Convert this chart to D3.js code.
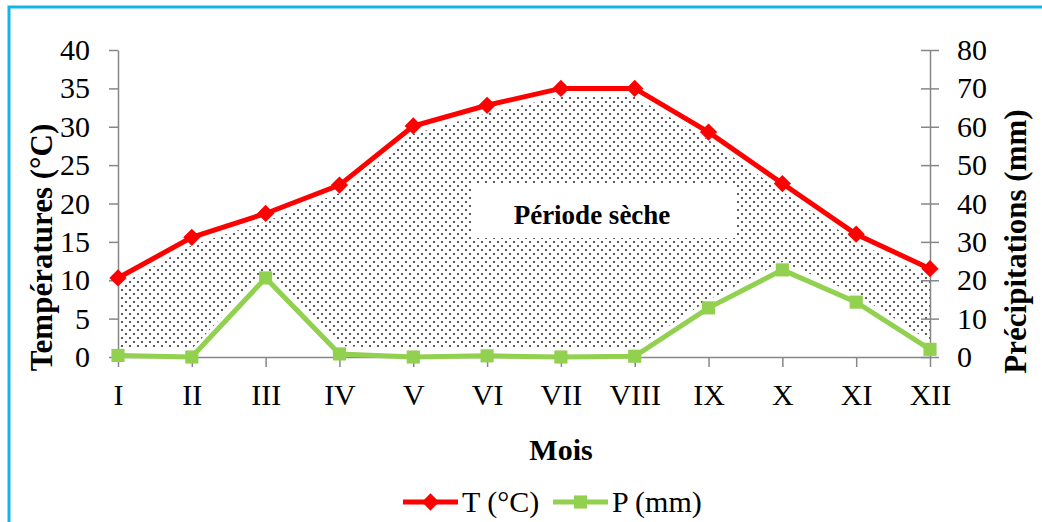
<!DOCTYPE html>
<html>
<head>
<meta charset="utf-8">
<script src="https://cdn.jsdelivr.net/npm/d3@7"></script>
<style>
  body { margin: 0; background: #fff; }
  svg text { fill: #000; }
</style>
</head>
<body>
<div id="chart"></div>
<script>
// months and the two series
const months = ["I", "II", "III", "IV", "V", "VI", "VII", "VIII", "IX", "X", "XI", "XII"];
const temperature = [10.3, 15.6, 18.7, 22.4, 30.1, 32.8, 35.0, 35.0, 29.3, 22.6, 16.0, 11.5];
const precipitation = [0.4, 0, 20.6, 0.8, 0, 0.3, 0, 0.2, 12.8, 22.7, 14.3, 2.0];
const tempTicks = [0, 5, 10, 15, 20, 25, 30, 35, 40];
const precTicks = [0, 10, 20, 30, 40, 50, 60, 70, 80];
const seriesNames = ["T (°C)", "P (mm)"];
const seriesColors = ["#ff0000", "#92d050"];

const W = 1042, H = 522;
const margin = { top: 50, right: 112, bottom: 165, left: 118 };
const serif = "'Liberation Serif', 'Times New Roman', serif";

const svg = d3.select("#chart").append("svg")
  .attr("width", W)
  .attr("height", H)
  .style("font-family", serif);

// dot pattern for the dry period
const defs = svg.append("defs");
const pat = defs.append("pattern")
  .attr("id", "dots")
  .attr("patternUnits", "userSpaceOnUse")
  .attr("width", 8)
  .attr("height", 8);
pat.append("circle").attr("cx", 2).attr("cy", 2).attr("r", 1.1).attr("fill", "#333");
pat.append("circle").attr("cx", 6).attr("cy", 6).attr("r", 1.1).attr("fill", "#333");

// outer frame
svg.append("rect")
  .attr("x", 9).attr("y", 7)
  .attr("width", W + 20).attr("height", H + 20)
  .attr("fill", "#fff")
  .attr("stroke", "#14b4f0")
  .attr("stroke-width", 3);

const x = d3.scalePoint()
  .domain(months)
  .range([margin.left, W - margin.right]);

const yT = d3.scaleLinear()
  .domain([0, 40])
  .range([H - margin.bottom, margin.top]);

const yP = d3.scaleLinear()
  .domain([0, 80])
  .range([H - margin.bottom, margin.top]);

const rows = months.map((m, i) => ({ m, t: temperature[i], p: precipitation[i] }));

// dotted area between P and T (sits a little inside the two lines)
svg.append("path")
  .datum(rows)
  .attr("fill", "url(#dots)")
  .attr("d", d3.area()
    .x(d => x(d.m))
    .y0(d => yP(d.p) - 8)
    .y1(d => yT(d.t) + 8));

// axes
const gray = "#878787";
const styleAxis = g => {
  g.attr("font-family", null).attr("font-size", null);
  g.select(".domain").attr("stroke", gray).attr("stroke-width", 1.5);
  g.selectAll(".tick line").attr("stroke", gray).attr("stroke-width", 1.5);
  g.selectAll(".tick text")
    .style("font-family", serif)
    .style("font-size", "30px")
    .attr("fill", "#000");
};

svg.append("g")
  .attr("transform", `translate(${margin.left},0)`)
  .call(d3.axisLeft(yT).tickValues(tempTicks).tickSize(9).tickSizeOuter(0).tickPadding(19))
  .call(styleAxis);

svg.append("g")
  .attr("transform", `translate(${W - margin.right},0)`)
  .call(d3.axisRight(yP).tickValues(precTicks).tickSize(9).tickSizeOuter(0).tickPadding(18))
  .call(styleAxis)
  .call(g => g.selectAll(".tick line").attr("x1", -9));

svg.append("g")
  .attr("transform", `translate(0,${H - margin.bottom})`)
  .call(d3.axisBottom(x).tickSize(10).tickSizeOuter(0).tickPadding(17))
  .call(styleAxis);

// label for the dry period
svg.append("rect")
  .attr("x", 472).attr("y", 185)
  .attr("width", 263).attr("height", 53)
  .attr("fill", "#fff");
svg.append("text")
  .attr("x", 592).attr("y", 224)
  .attr("text-anchor", "middle")
  .style("font-family", serif)
  .style("font-size", "27px")
  .style("font-weight", "bold")
  .text("Période sèche");

// lines
const lineT = d3.line().x(d => x(d.m)).y(d => yT(d.t));
const lineP = d3.line().x(d => x(d.m)).y(d => yP(d.p));

svg.append("path").datum(rows)
  .attr("fill", "none").attr("stroke", seriesColors[1]).attr("stroke-width", 5)
  .attr("d", lineP);
svg.append("path").datum(rows)
  .attr("fill", "none").attr("stroke", seriesColors[0]).attr("stroke-width", 5)
  .attr("d", lineT);

const diamond = d3.symbol().type(d3.symbolDiamond2).size(190);
const square = d3.symbol().type(d3.symbolSquare2).size(220);

svg.selectAll(".mp").data(rows).enter().append("path")
  .attr("class", "mp")
  .attr("transform", d => `translate(${x(d.m)},${yP(d.p)})`)
  .attr("d", square)
  .attr("fill", seriesColors[1]);

svg.selectAll(".mt").data(rows).enter().append("path")
  .attr("class", "mt")
  .attr("transform", d => `translate(${x(d.m)},${yT(d.t)})`)
  .attr("d", diamond)
  .attr("fill", seriesColors[0]);

// axis titles
svg.append("text")
  .attr("transform", `translate(41,${(yT(0) + yT(40)) / 2 + 44}) rotate(-90)`)
  .attr("text-anchor", "middle")
  .attr("dominant-baseline", "central")
  .style("font-family", serif)
  .style("font-size", "31px")
  .style("font-weight", "bold")
  .text("Températures (°C)");

svg.append("text")
  .attr("transform", `translate(1015,${(yP(0) + yP(80)) / 2 + 38}) rotate(-90)`)
  .attr("text-anchor", "middle")
  .attr("dominant-baseline", "central")
  .style("font-family", serif)
  .style("font-size", "31px")
  .style("font-weight", "bold")
  .text("Précipitations (mm)");

svg.append("text")
  .attr("x", (x("I") + x("XII")) / 2 + 37)
  .attr("y", 460)
  .attr("text-anchor", "middle")
  .style("font-family", serif)
  .style("font-size", "30px")
  .style("font-weight", "bold")
  .text("Mois");

// legend
const legendX = [403, 553];
const legend = svg.selectAll(".lg").data(seriesNames).enter().append("g")
  .attr("class", "lg")
  .attr("transform", (d, i) => `translate(${legendX[i]},502)`);
legend.append("line")
  .attr("x1", 0).attr("x2", 55)
  .attr("stroke", (d, i) => seriesColors[i])
  .attr("stroke-width", 5);
legend.append("path")
  .attr("transform", "translate(27.5,0)")
  .attr("d", (d, i) => i === 0 ? diamond() : square())
  .attr("fill", (d, i) => seriesColors[i]);
legend.append("text")
  .attr("x", 59).attr("y", 10)
  .style("font-family", serif)
  .style("font-size", "30px")
  .text(d => d);
</script>
</body>
</html>
